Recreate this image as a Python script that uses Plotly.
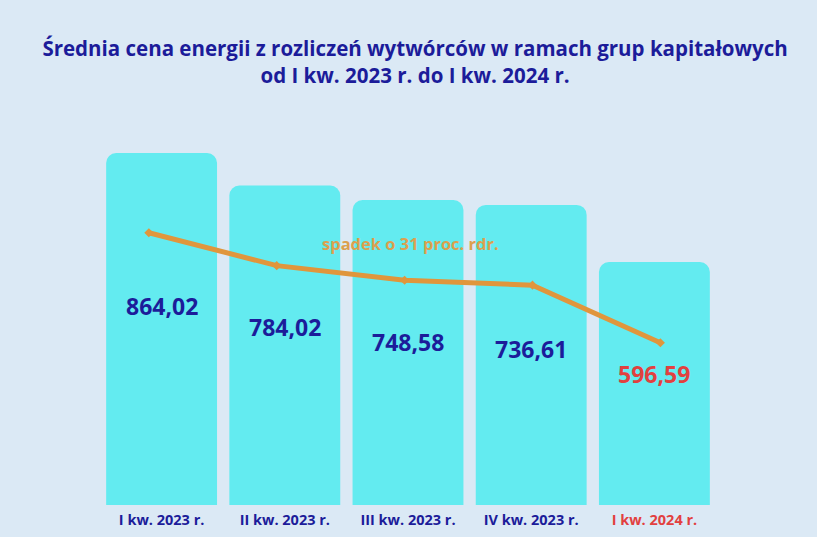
import plotly.graph_objects as go

# dane
kwartaly = ["I kw. 2023 r.", "II kw. 2023 r.", "III kw. 2023 r.", "IV kw. 2023 r.", "I kw. 2024 r."]
ceny = [864.02, 784.02, 748.58, 736.61, 596.59]
etykiety = ["864,02", "784,02", "748,58", "736,61", "596,59"]
opis_trendu = "spadek o 31 proc. rdr."

# wysokość etykiety jako ułamek wysokości słupka
poz_etykiet = [0.566, 0.556, 0.535, 0.52, 0.54]

GRANAT = "#1c1c9a"
CZERWONY = "#e2403f"
POMARANCZ = "#e0963c"
TLO = "#dbe9f5"
SLUPEK = "#63ebf0"

kolory_tekstu = [GRANAT] * 4 + [CZERWONY]

fig = go.Figure()

fig.add_trace(go.Bar(
    x=list(range(len(kwartaly))),
    y=ceny,
    marker=dict(color=SLUPEK, cornerradius=10, line=dict(width=0)),
    hoverinfo="skip",
    showlegend=False,
))

# linia trendu na osobnych osiach
fig.add_trace(go.Scatter(
    x=list(range(len(kwartaly))),
    y=ceny,
    xaxis="x2", yaxis="y2",
    mode="lines+markers",
    line=dict(color=POMARANCZ, width=5),
    marker=dict(color=POMARANCZ, size=7, symbol="diamond"),
    showlegend=False,
))

for i, (v, t) in enumerate(zip(ceny, etykiety)):
    fig.add_annotation(
        x=i, y=v * poz_etykiet[i], xref="x", yref="y",
        text=f"<b>{t}</b>", showarrow=False,
        font=dict(family="Open Sans", size=23, color=kolory_tekstu[i]),
    )

# adnotacja trendu (pozycja w pikselach przeliczona na paper)
fig.add_annotation(
    x=(410 - 100) / (817 - 201), y=(537 - 32 - 243) / (537 - 162),
    xref="paper", yref="paper", xanchor="center", yanchor="middle",
    text=f"<b>{opis_trendu}</b>", showarrow=False,
    font=dict(family="Open Sans", size=16.5, color="#dca04e"),
)

ticktext = [f"<span style='color:{c}'><b>{k}</b></span>" for k, c in zip(kwartaly, kolory_tekstu)]

fig.update_layout(
    width=817, height=537,
    paper_bgcolor=TLO, plot_bgcolor=TLO,
    margin=dict(l=100, r=101, t=130, b=32),
    bargap=0.1,
    title=dict(
        text="<b>Średnia cena energii z rozliczeń wytwórców w ramach grup kapitałowych<br>od I kw. 2023 r. do I kw. 2024 r.</b>",
        x=0.508, xanchor="center", y=0.895, yanchor="middle",
        font=dict(family="Open Sans", size=20.5, color=GRANAT),
    ),
    xaxis=dict(
        tickmode="array", tickvals=list(range(len(kwartaly))), ticktext=ticktext,
        range=[-0.5, 4.5], showgrid=False, zeroline=False, showline=False,
        ticks="", ticklabelstandoff=4, automargin=False,
        tickfont=dict(family="Open Sans", size=14.5), fixedrange=True,
    ),
    yaxis=dict(range=[0, 920.5], visible=False, fixedrange=True),
    xaxis2=dict(range=[-0.382, 4.435], overlaying="x", visible=False),
    yaxis2=dict(range=[202, 1113.8], overlaying="y", visible=False),
)

fig.write_html("out.html", config={"displayModeBar": False},
               post_script="document.body.style.margin='0';")
